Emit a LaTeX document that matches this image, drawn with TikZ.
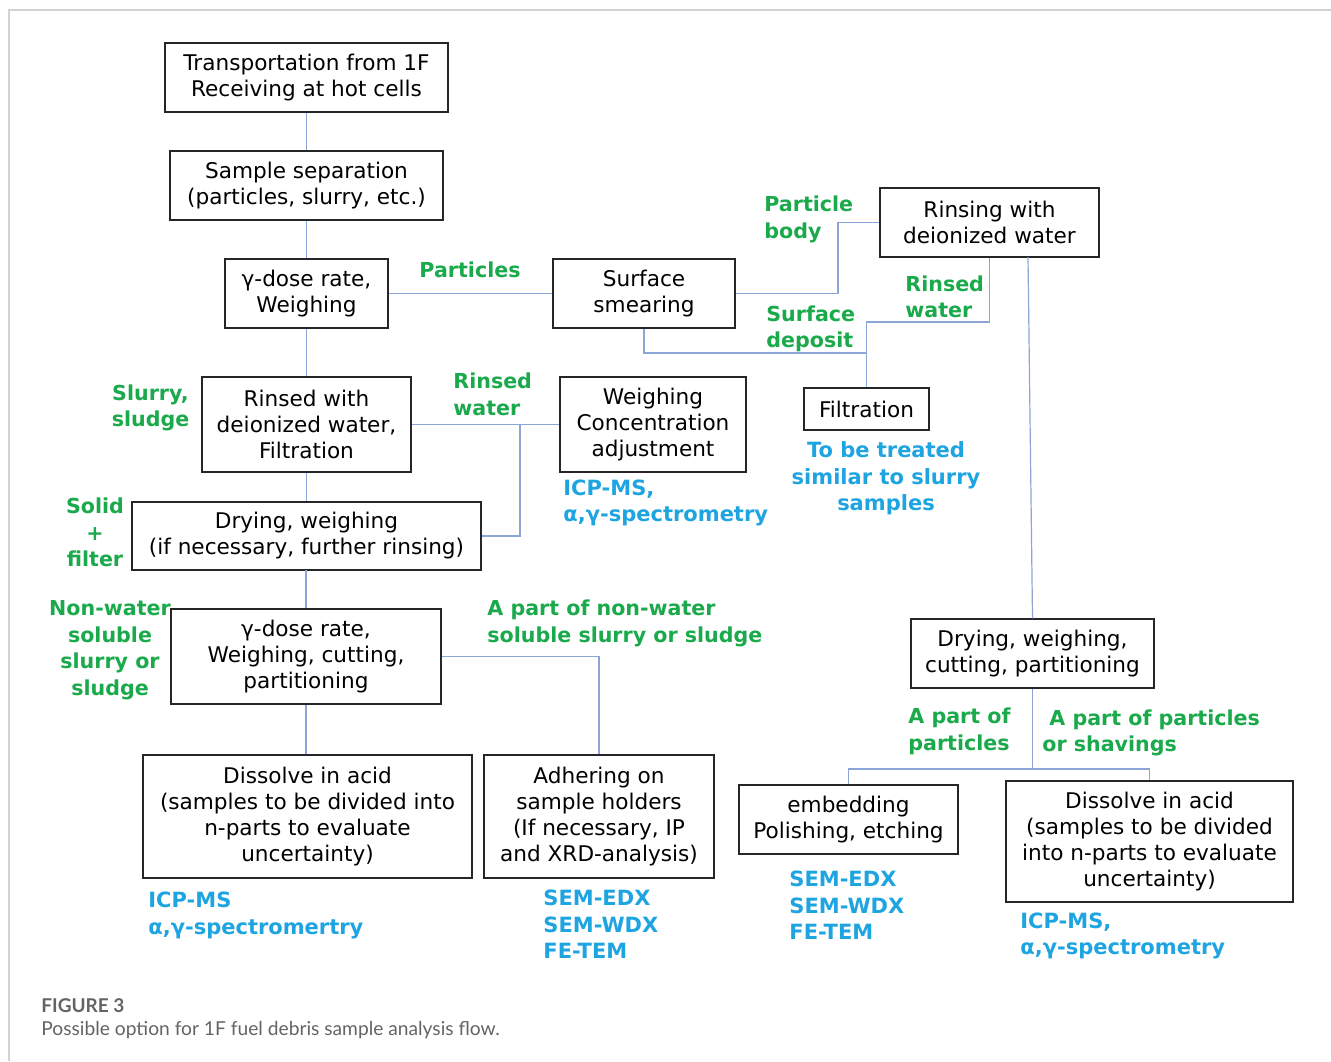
\documentclass[tikz,border=0pt]{standalone}
\usepackage{fontspec}
\setmainfont{DejaVu Sans}
\newfontfamily\capfont{Lato}
\definecolor{lblgreen}{RGB}{26,170,75}
\definecolor{lblblue}{RGB}{30,165,225}
\definecolor{connc}{RGB}{140,165,215}
\definecolor{framec}{RGB}{210,210,210}
\definecolor{capc}{RGB}{100,100,100}
\tikzset{
  box/.style={draw=black!85, line width=0.75pt, inner sep=0pt, align=center,
    font=\fontsize{10.8pt}{13pt}\selectfont},
  conn/.style={draw=connc, line width=0.6pt},
  glabel/.style={text=lblgreen, inner sep=0pt, font=\fontsize{10.3pt}{13.3pt}\selectfont\bfseries},
  blabel/.style={text=lblblue, inner sep=0pt, font=\fontsize{10.5pt}{13.3pt}\selectfont\bfseries},
}
\begin{document}
\begin{tikzpicture}[x=0.5pt,y=-0.5pt]
\useasboundingbox (0,0) rectangle (1331,1061);
\fill[white] (0,0) rectangle (1331,1061);
\draw[framec, line width=0.6pt] (9,1061) -- (9,10) -- (1331,10);

% boxes
\node[box, minimum width=141.5pt, minimum height=34.5pt] (n1) at (306.5,77.5) {Transportation from 1F\\Receiving at hot cells};
\node[box, minimum width=136.5pt, minimum height=34.5pt] (n2) at (306.5,185.5) {Sample separation\\(particles, slurry, etc.)};
\node[box, minimum width=81.5pt, minimum height=34.5pt] (n3) at (306.5,293.5) {γ-dose rate,\\Weighing};
\node[box, minimum width=91pt, minimum height=34.5pt] (n4) at (644,293.5) {Surface\\smearing};
\node[box, minimum width=109.5pt, minimum height=34.5pt] (n5) at (989.5,222.5) {Rinsing with\\deionized water};
\node[box, minimum width=104.5pt, minimum height=47.5pt] (n6) at (306.5,424.5) {Rinsed with\\deionized water,\\Filtration};
\node[box, minimum width=93pt, minimum height=47.5pt] (n7) at (653,424.5) {Weighing\\Concentration\\adjustment};
\node[box, minimum width=62.5pt, minimum height=21pt] (n8) at (866.5,409) {Filtration};
\node[box, minimum width=174.5pt, minimum height=34pt] (n9) at (306.5,536) {Drying, weighing\\(if necessary, further rinsing)};
\node[box, minimum width=135pt, minimum height=47.5pt] (n10) at (306,656.5) {γ-dose rate,\\Weighing, cutting,\\partitioning};
\node[box, minimum width=164.5pt, minimum height=61.5pt] (n11) at (307.5,816.5) {Dissolve in acid\\(samples to be divided into\\n-parts to evaluate\\uncertainty)};
\node[box, minimum width=115pt, minimum height=61.5pt] (n12) at (599,816.5) {Adhering on\\sample holders\\(If necessary, IP\\and XRD-analysis)};
\node[box, minimum width=121.5pt, minimum height=34.5pt] (n13) at (1032.5,653.5) {Drying, weighing,\\cutting, partitioning};
\node[box, minimum width=109.5pt, minimum height=34.5pt] (n14) at (848.5,819.5) {embedding\\Polishing, etching};
\node[box, minimum width=143.5pt, minimum height=60.5pt] (n15) at (1149.5,841.5) {Dissolve in acid\\(samples to be divided\\into n-parts to evaluate\\uncertainty)};

% junction coordinates
\coordinate (pb) at (838,222.5);
\coordinate (j1) at (866.5,353);
\coordinate (j2) at (866.5,322);
\coordinate (r1) at (1028,257);
\coordinate (j3) at (520,424.5);
\coordinate (j4) at (1032.5,769);

% connectors
\draw[conn] (n1.south) -- (n2.north);
\draw[conn] (n2.south) -- (n3.north);
\draw[conn] (n3.south) -- (n6.north);
\draw[conn] (n6.south) -- (n9.north);
\draw[conn] (n9.south) -- (n10.south |- n9.south) -- (n10.north);
\draw[conn] (n10.south) -- (n10.south |- n11.north);
\draw[conn] (n3.east) -- (n4.west);
\draw[conn] (n4.east) -| (pb) -- (n5.west);
\draw[conn] (n4.south) |- (j1);
\draw[conn] (n5.south) |- (j2) -- (j1) -- (n8.north);
\draw[conn] (r1) -- (n13.north);
\draw[conn] (n6.east) -- (n7.west);
\draw[conn] (j3) |- (n9.east);
\draw[conn] (n10.east) -| (n12.north);
\draw[conn] (n13.south) -- (j4);
\draw[conn] (n14.north) |- (j4);
\draw[conn] (n15.north) |- (j4);

% green labels
\node[glabel] (g1) at (470,270) {Particles};
\node[glabel, anchor=west, align=left] (g2) at (764,219.5) {Particle\\body};
\node[glabel, anchor=west, align=left] (g3) at (905,297) {Rinsed\\water};
\node[glabel, anchor=west, align=left] (g4) at (766,329) {Surface\\deposit};
\node[glabel, anchor=west, align=left] (g5) at (453,394.5) {Rinsed\\water};
\node[glabel, align=center] (g6) at (150.5,408) {Slurry,\\sludge};
\node[glabel, align=center] (g7) at (95,532.5) {Solid\\+\\filter};
\node[glabel, align=center] (g8) at (110,650) {Non-water\\soluble\\slurry or\\sludge};
\node[glabel, anchor=west, align=left] (g9) at (487,623.5) {A part of non-water\\soluble slurry or sludge};
\node[glabel, anchor=west, align=left] (g10) at (908,731) {A part of\\particles};
\node[glabel, anchor=west, align=left] (g11) at (1042,733) {\hspace*{3.5pt}A part of particles\\or shavings};

% blue labels
\node[blabel, anchor=west, align=left] (b1) at (563,503) {ICP-MS,\\α,γ-spectrometry};
\node[blabel, align=center] (b2) at (886,478.5) {To be treated\\similar to slurry\\samples};
\node[blabel, anchor=west, align=left] (b3) at (148,915.5) {ICP-MS\\α,γ-spectromertry};
\node[blabel, anchor=west, align=left] (b4) at (543,924.5) {SEM-EDX\\SEM-WDX\\FE-TEM};
\node[blabel, anchor=west, align=left] (b5) at (789,905.5) {SEM-EDX\\SEM-WDX\\FE-TEM};
\node[blabel, anchor=west, align=left] (b6) at (1020,936) {ICP-MS,\\α,γ-spectrometry};

% caption
\node[anchor=west, inner sep=0pt, text=capc, font=\capfont\fontsize{9.5pt}{11pt}\selectfont\bfseries] (c1) at (41,1006) {FIGURE 3};
\node[anchor=west, inner sep=0pt, text=capc, font=\capfont\fontsize{9.6pt}{11pt}\selectfont] (c2) at (41,1030) {Possible option for 1F fuel debris sample analysis flow.};
\end{tikzpicture}
\end{document}
